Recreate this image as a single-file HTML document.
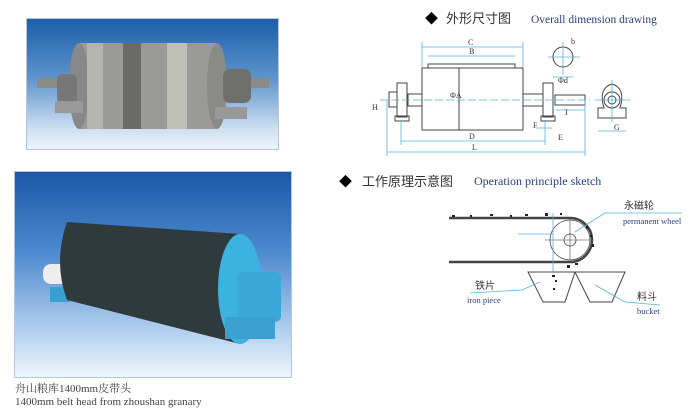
<!DOCTYPE html>
<html><head><meta charset="utf-8"><style>
body{margin:0;width:695px;height:414px;background:#fff;overflow:hidden;position:relative;font-family:"Liberation Serif","Noto Serif CJK SC",serif}
.p1{position:absolute;left:26px;top:18px;width:251px;height:130px;background:linear-gradient(#1a5fa8,#5d93cc 45%,#cfe0f2 85%,#eef4fb);border:1px solid #b8c4da}
.p2{position:absolute;left:14px;top:171px;width:276px;height:205px;background:linear-gradient(#1a58a6,#4f8bd0 40%,#b9d4f0 80%,#eef5fc);border:1px solid #b8c4da}
.cap{position:absolute;left:15px;font-size:11px;color:#444}
</style></head><body>
<div class="p1">
<svg width="251" height="130">
<rect x="10" y="59" width="232" height="10" fill="#8a8a86"/>
<rect x="52" y="24" width="138" height="86" fill="#9a9a96"/>
<ellipse cx="52" cy="67" rx="10" ry="43" fill="#888"/>
<rect x="60" y="24" width="16" height="86" fill="#b4b4b0"/>
<rect x="96" y="24" width="18" height="86" fill="#6a6a66"/>
<rect x="140" y="24" width="20" height="86" fill="#c0c0bb"/>
<ellipse cx="190" cy="67" rx="10" ry="43" fill="#8a8a86"/>
<rect x="30" y="55" width="20" height="30" rx="5" fill="#777"/>
<rect x="196" y="50" width="28" height="34" rx="7" fill="#6e6e6a"/>
<rect x="188" y="88" width="32" height="12" fill="#999"/>
<rect x="28" y="82" width="28" height="12" fill="#999"/>
</svg></div>
<div class="p2">
<svg width="276" height="205">
<rect x="28" y="92" width="25" height="20" rx="8" fill="#eee"/>
<rect x="35" y="115" width="20" height="15" fill="#3aa0d0"/>
<path d="M52 50 L225 62 L225 172 L52 128 Q38 90 52 50Z" fill="#2f3a3c"/>
<ellipse cx="225" cy="117" rx="22" ry="55" fill="#3cb2e0"/>
<rect x="222" y="100" width="44" height="50" rx="6" fill="#3aa8d8"/>
<rect x="210" y="145" width="50" height="22" fill="#3aa0d0"/>
</svg></div>
<div class="cap" style="top:380px">舟山粮库1400mm皮带头</div>
<div class="cap" style="top:396px">1400mm belt head from zhoushan granary</div>

<svg width="695" height="414" style="position:absolute;left:0;top:0" font-family="Liberation Serif,Noto Serif CJK SC,serif">
<text x="425" y="23" font-size="13" fill="#000">◆</text>
<text x="446" y="23" font-size="13" fill="#333" font-family="Noto Sans CJK SC,sans-serif">外形尺寸图</text>
<text x="531" y="23" font-size="11.5" fill="#2a3e7a">Overall dimension drawing</text>
<text x="339" y="186" font-size="13" fill="#000">◆</text>
<text x="362" y="186" font-size="13" fill="#333" font-family="Noto Sans CJK SC,sans-serif">工作原理示意图</text>
<text x="474" y="185" font-size="12" fill="#2a3e7a">Operation principle sketch</text>
<g stroke="#444" fill="none" stroke-width="1">
<rect x="422" y="68" width="101" height="62"/>
<rect x="428" y="64" width="87" height="4"/>
<line x1="459" y1="68" x2="459" y2="130"/>
<rect x="408" y="94" width="14" height="12"/><rect x="523" y="94" width="20" height="12"/>
<rect x="555" y="95" width="30" height="10"/>
<rect x="397" y="83" width="10" height="34"/><rect x="395" y="116" width="14" height="5"/>
<rect x="389" y="92" width="8" height="15"/>
<rect x="543" y="83" width="10" height="34"/><rect x="541" y="116" width="14" height="5"/>
<circle cx="563" cy="57" r="10"/>
<path d="M598 118 L598 108 L604 108 Q598 88 612 84 Q626 88 620 108 L626 108 L626 118 Z"/>
<circle cx="612" cy="100" r="8"/><circle cx="612" cy="100" r="4"/>
</g>
<g stroke="#5ab0d8" fill="none" stroke-width="0.8">
<line x1="380" y1="100" x2="590" y2="100" stroke-dasharray="8,3"/>
<line x1="422" y1="47" x2="523" y2="47"/><line x1="428" y1="56" x2="515" y2="56"/>
<line x1="422" y1="42" x2="422" y2="68"/><line x1="523" y1="42" x2="523" y2="68"/>
<line x1="401" y1="141" x2="545" y2="141"/><line x1="387" y1="152" x2="585" y2="152"/>
<line x1="387" y1="100" x2="387" y2="156"/><line x1="401" y1="120" x2="401" y2="145"/>
<line x1="585" y1="100" x2="585" y2="156"/><line x1="545" y1="120" x2="545" y2="145"/>
<line x1="548" y1="57" x2="580" y2="57"/><line x1="563" y1="42" x2="563" y2="75"/>
<line x1="553" y1="77" x2="573" y2="77"/><line x1="598" y1="131" x2="626" y2="131"/>
<line x1="595" y1="100" x2="630" y2="100"/><line x1="612" y1="80" x2="612" y2="122"/>
<line x1="556" y1="110" x2="585" y2="110"/><line x1="536" y1="128" x2="552" y2="128"/>
</g>
<g font-size="8" fill="#333">
<text x="468" y="45">C</text><text x="469" y="54">B</text><text x="450" y="98">ΦA</text>
<text x="469" y="139">D</text><text x="472" y="150">L</text><text x="558" y="140">E</text>
<text x="533" y="128">F</text><text x="565" y="115">I</text><text x="571" y="44">b</text>
<text x="558" y="83">Φd</text><text x="614" y="130">G</text><text x="372" y="110">H</text>
</g>
<g stroke="#444" fill="none">
<line x1="449" y1="218" x2="570" y2="218" stroke-width="2.5"/>
<line x1="449" y1="262" x2="570" y2="262" stroke-width="2.5"/>
<path d="M570 218 A22 22 0 0 1 570 262" stroke-width="2.5"/>
<circle cx="570" cy="240" r="20" stroke-width="0.8"/><circle cx="570" cy="240" r="6" stroke-width="0.8"/>
<line x1="545" y1="240" x2="590" y2="240" stroke-width="0.6"/>
<line x1="570" y1="220" x2="570" y2="260" stroke-width="0.6"/>
<path d="M528 272 L575 272 L565 302 L543 302 Z M575 272 L625 272 L612 302 L590 302 Z" stroke-width="1"/>
</g>
<g stroke="#5ab0d8" fill="none" stroke-width="0.8">
<line x1="553" y1="213" x2="553" y2="272"/><line x1="518" y1="234" x2="553" y2="234"/>
<path d="M575 232 L605 213 L682 213"/><path d="M470 293 L522 290 L540 282"/>
<path d="M595 285 L625 302 L660 305"/>
</g>
<g fill="#222"><rect x="452" y="215" width="3" height="2"/><rect x="470" y="215" width="2" height="2"/><rect x="490" y="214" width="3" height="2"/><rect x="510" y="215" width="2" height="2"/><rect x="525" y="214" width="3" height="2"/><rect x="545" y="213" width="3" height="3"/><rect x="560" y="213" width="2" height="2"/>
<rect x="586" y="226" width="2" height="3"/><rect x="590" y="235" width="2" height="2"/><rect x="592" y="244" width="2" height="3"/><rect x="575" y="263" width="3" height="2"/><rect x="567" y="265" width="3" height="3"/><rect x="552" y="275" width="3" height="2"/><rect x="555" y="280" width="2" height="2"/><rect x="553" y="288" width="2" height="2"/></g>
<g font-size="10" fill="#333">
<text x="624" y="209" font-family="Noto Sans CJK SC,sans-serif">永磁轮</text>
<text x="623" y="224" font-size="8.5" fill="#2a3e7a">permanent wheel</text>
<text x="475" y="289" font-family="Noto Sans CJK SC,sans-serif">铁片</text>
<text x="467" y="303" font-size="8.5" fill="#2a3e7a">iron piece</text>
<text x="637" y="300" font-family="Noto Sans CJK SC,sans-serif">料斗</text>
<text x="637" y="314" font-size="8.5" fill="#2a3e7a">bucket</text>
</g>
</svg>
</body></html>
